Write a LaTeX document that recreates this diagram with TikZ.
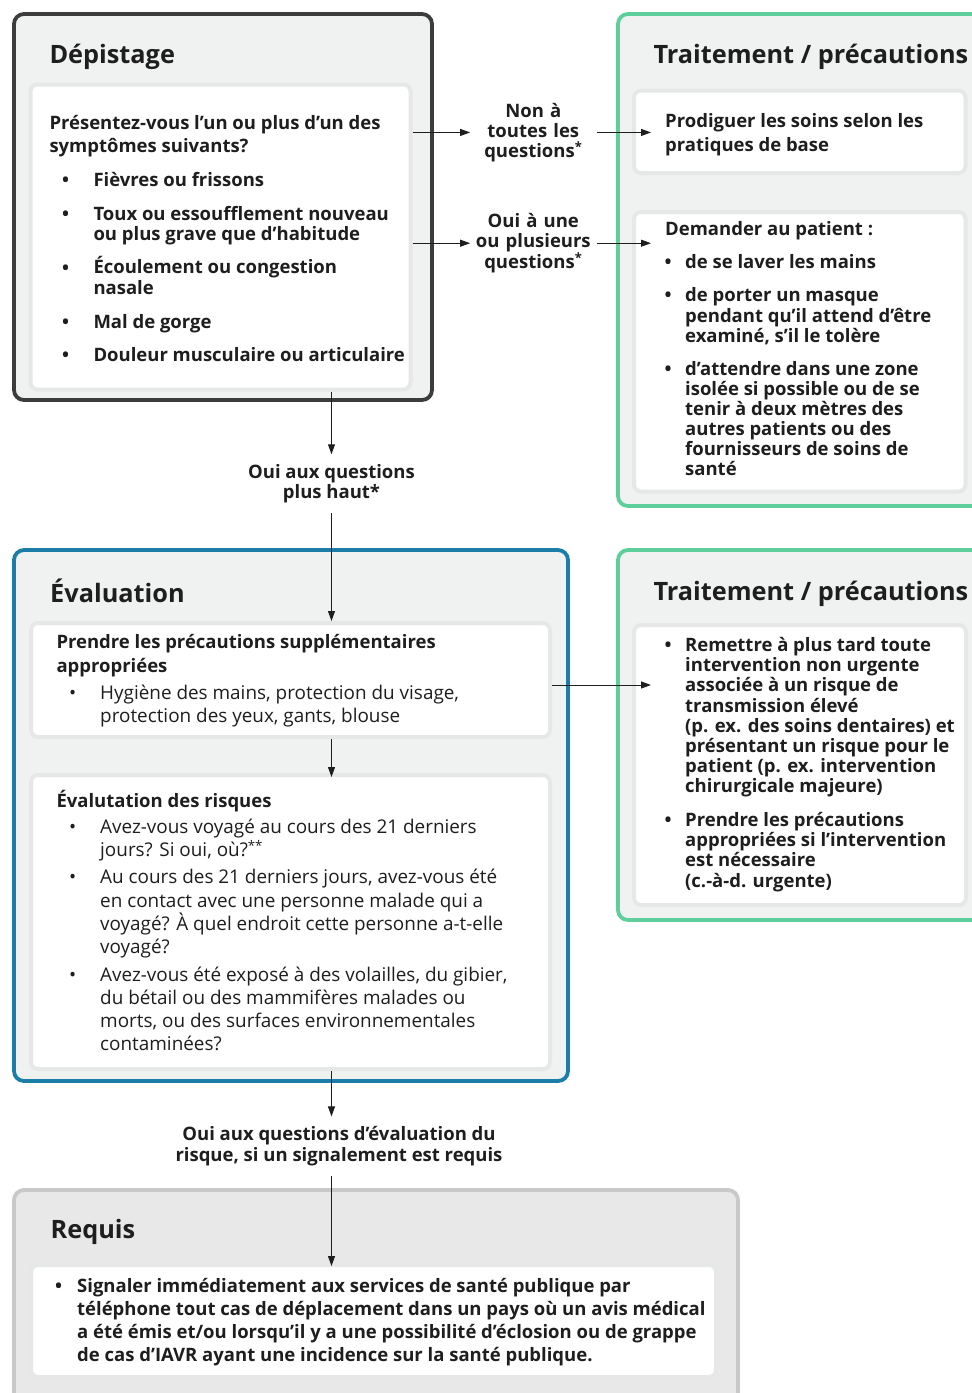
\documentclass[tikz,border=0pt]{standalone}
\usepackage{fontspec}
\setmainfont{Open Sans}
\usetikzlibrary{arrows.meta,calc}
\definecolor{panel}{HTML}{F0F1F1}
\definecolor{halo}{HTML}{E6E7E7}
\definecolor{depline}{HTML}{3C3C3C}
\definecolor{greenline}{HTML}{5CCF9A}
\definecolor{blueline}{HTML}{1B7EA8}
\definecolor{reqfill}{HTML}{E8E8E8}
\definecolor{reqline}{HTML}{C8C8C8}
\definecolor{ink}{HTML}{1E1E1E}
% style, name, bullet x, text x, first baseline, last baseline, text
\newcommand\bitem[7]{%
  \node[bul,#1] (#2b) at (#3,#5) {\textbullet};
  \node[#1] (#2) at (#4,#6) {#7};}
\begin{document}
\begin{tikzpicture}[x=1pt,y=-1pt,
  outer/.style={rectangle,inner sep=0pt,line width=3.8pt,rounded corners=10pt,fill=panel},
  innerbox/.style={rectangle,inner sep=0pt,draw=halo,line width=4pt,fill=white,rounded corners=7pt},
  title/.style={anchor=base west,inner sep=0pt,text=ink,font=\bfseries\fontsize{25.3}{30}\selectfont},
  bt/.style={anchor=base west,inner sep=0pt,align=left,text=ink,font=\bfseries\fontsize{18.5}{20.2}\selectfont},
  rt/.style={anchor=base west,inner sep=0pt,align=left,text=ink,font=\fontsize{18.9}{23.3}\selectfont},
  bul/.style={anchor=base west,inner sep=0pt},
  lab/.style={anchor=base,inner xsep=1pt,inner ysep=10pt,align=center,text=ink,font=\bfseries\fontsize{18.5}{20}\selectfont},
  arr/.style={draw=ink,line width=1pt,-{Triangle[length=10pt,width=7pt]}}
]
\useasboundingbox (0,0) rectangle (972,1393);
\clip (0,0) rectangle (972,1393);
\fill[white] (0,0) rectangle (972,1393);

% ---------- outer panels ----------
\node[outer,draw=depline,minimum width=418,minimum height=386] (dep) at (223,207) {};
\node[outer,draw=greenline,minimum width=372,minimum height=492] (g1) at (804,260) {};
\node[outer,draw=blueline,minimum width=554,minimum height=531] (ev) at (291,815.5) {};
\node[outer,draw=greenline,minimum width=372,minimum height=370] (g2) at (804,735) {};
\node[outer,draw=reqline,fill=reqfill,minimum width=724,minimum height=222] (rq) at (376,1301) {};

% ---------- inner white boxes ----------
\node[innerbox,minimum width=380,minimum height=305] (depin) at (220.5,237) {};
\node[innerbox,minimum width=331.5,minimum height=82.5] (g1in1) at (799.75,131.75) {};
\node[innerbox,minimum width=331.5,minimum height=279.5] (g1in2) at (799.75,351.75) {};
\node[innerbox,minimum width=519,minimum height=114] (evin1) at (290.5,680) {};
\node[innerbox,minimum width=519,minimum height=294] (evin2) at (290.5,922) {};
\node[innerbox,minimum width=332,minimum height=280] (g2in) at (800,765) {};
\node[innerbox,minimum width=685,minimum height=112] (rqin) at (373.5,1321) {};

% ---------- Dépistage ----------
\node[title] (tdep) at (49.3,63.3) {Dépistage};
\node[bt,font=\bfseries\fontsize{18.5}{23.4}\selectfont] (q1) at (49.3,152.7) {Présentez-vous l’un ou plus d’un des\\symptômes suivants?};
\bitem{bt}{d1}{62}{93.3}{186.7}{186.7}{Fièvres ou frissons}
\bitem{bt}{d2}{62}{93.3}{220.7}{240.7}{Toux ou essoufflement nouveau\\ou plus grave que d’habitude}
\bitem{bt}{d3}{62}{93.3}{274}{294}{Écoulement ou congestion\\nasale}
\bitem{bt}{d4}{62}{93.3}{328.3}{328.3}{Mal de gorge}
\bitem{bt}{d5}{62}{93.3}{361.7}{361.7}{Douleur musculaire ou articulaire}

% ---------- Traitement 1 ----------
\node[title] (tg1) at (653.3,63.3) {Traitement / précautions};
\node[bt,font=\bfseries\fontsize{18.5}{24}\selectfont] (p1) at (665,151.7) {Prodiguer les soins selon les\\pratiques de base};
\node[bt] (p2) at (665,235) {Demander au patient :};
\bitem{bt}{a1}{664.5}{685}{268.3}{268.3}{de se laver les mains}
\bitem{bt,font=\bfseries\fontsize{18.5}{20.3}\selectfont}{a2}{664.5}{685}{301.7}{342.3}{de porter un masque\\pendant qu’il attend d’être\\examiné, s’il le tolère}
\bitem{bt,font=\bfseries\fontsize{18.5}{20}\selectfont}{a3}{664.5}{685}{375.7}{475.7}{d’attendre dans une zone\\isolée si possible ou de se\\tenir à deux mètres des\\autres patients ou des\\fournisseurs de soins de\\santé}

% ---------- Évaluation ----------
\node[title] (tev) at (50,602) {Évaluation};
\node[bt,font=\bfseries\fontsize{18.5}{24}\selectfont] (e1) at (56.3,672) {Prendre les précautions supplémentaires\\appropriées};
\bitem{rt}{h1}{69}{100}{699}{722.3}{Hygiène des mains, protection du visage,\\protection des yeux, gants, blouse}
\node[bt] (e2) at (56.3,807) {Évalutation des risques};
\bitem{rt}{r1}{69}{100}{833}{856.3}{Avez-vous voyagé au cours des 21 derniers\\jours? Si oui, où?\textsuperscript{**}}
\bitem{rt}{r2}{69}{100}{883.7}{953.6}{Au cours des 21 derniers jours, avez-vous été\\en contact avec une personne malade qui a\\voyagé? À quel endroit cette personne a-t-elle\\voyagé?}
\bitem{rt}{r3}{69}{100}{981}{1050.9}{Avez-vous été exposé à des volailles, du gibier,\\du bétail ou des mammifères malades ou\\morts, ou des surfaces environnementales\\contaminées?}

% ---------- Traitement 2 ----------
\node[title] (tg2) at (653.3,600) {Traitement / précautions};
\bitem{bt,font=\bfseries\fontsize{18.5}{20.15}\selectfont}{t1}{664.5}{685}{651.5}{792.6}{Remettre à plus tard toute\\intervention non urgente\\associée à un risque de\\transmission élevé\\(p. ex. des soins dentaires) et\\présentant un risque pour le\\patient (p. ex. intervention\\chirurgicale majeure)}
\bitem{bt}{t2}{664.5}{685}{826.5}{887.1}{Prendre les précautions\\appropriées si l’intervention\\est nécessaire\\(c.-à-d. urgente)}

% ---------- Requis ----------
\node[title] (trq) at (50.5,1238.5) {Requis};
\bitem{bt,font=\bfseries\fontsize{18.5}{23.3}\selectfont}{s1}{55}{77}{1292}{1361.9}{Signaler immédiatement aux services de santé publique par\\téléphone tout cas de déplacement dans un pays où un avis médical\\a été émis et/ou lorsqu’il y a une possibilité d’éclosion ou de grappe\\de cas d’IAVR ayant une incidence sur la santé publique.}

% ---------- connector labels ----------
\node[lab,text width=124] (non) at (533.3,117.3) {Non à\\toutes les\\questions\textsuperscript{*}};
\node[lab,text width=124] (oui) at (533.3,227.3) {Oui à une\\ou plusieurs\\questions\textsuperscript{*}};
\node[lab] (mid) at (331.5,498.5) {Oui aux questions\\plus haut*};
\node[lab,font=\bfseries\fontsize{18.5}{20.7}\selectfont] (bot) at (339,1161.5) {Oui aux questions d’évaluation du\\risque, si un signalement est requis};

% ---------- connectors ----------
\coordinate (spine) at (331.5,0);
\coordinate (tipR) at (651,0);
\draw[arr] (depin.east |- non.west) -- (non.west);
\draw[arr] (non.east) -- (non.east -| tipR);
\draw[arr] (depin.east |- oui.west) -- (oui.west);
\draw[arr] (oui.east) -- (oui.east -| tipR);
\draw[arr] (depin.south -| spine) -- (mid.north -| spine);
\draw[arr] (mid.south -| spine) -- (evin1.north -| spine);
\draw[arr] (evin1.south -| spine) -- ([yshift=-4pt]evin2.north -| spine);
\draw[arr] ([yshift=-5pt]evin1.east) -- ([yshift=-5pt]evin1.east -| tipR);
\draw[arr] (evin2.south -| spine) -- (bot.north -| spine);
\draw[arr] (bot.south -| spine) -- ([yshift=-3pt]rqin.north -| spine);
\end{tikzpicture}
\end{document}
